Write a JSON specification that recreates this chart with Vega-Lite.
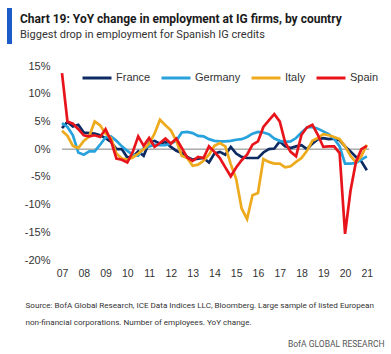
{
  "$schema": "https://vega.github.io/schema/vega-lite/v6.json",
  "width": 307,
  "height": 194,
  "autosize": {"type": "none"},
  "padding": {"left": 62, "top": 66, "right": 22, "bottom": 94},
  "config": {"view": {"stroke": null}, "font": "Liberation Sans"},
  "title": {
    "text": "Chart 19: YoY change in employment at IG firms, by country",
    "subtitle": "Biggest drop in employment for Spanish IG credits",
    "anchor": "start",
    "frame": "group",
    "dx": -42,
    "offset": -33,
    "font": "Roboto",
    "fontSize": 12,
    "fontWeight": "bold",
    "color": "#1a1a1a",
    "subtitleFont": "Roboto",
    "subtitleFontSize": 11,
    "subtitleColor": "#333333",
    "subtitlePadding": 3
  },
  "datasets": {
    "emp": [
      {"t": 2007, "France": 3.8, "Germany": 4.7, "Italy": 3.3, "Spain": 13.7},
      {"t": 2007.25, "France": 4.9, "Germany": 4.0, "Italy": 2.4, "Spain": 5.0},
      {"t": 2007.5, "France": 4.1, "Germany": 2.5, "Italy": 0.6, "Spain": 4.6},
      {"t": 2007.75, "France": 4.4, "Germany": -0.6, "Italy": 0.2, "Spain": 3.6},
      {"t": 2008, "France": 3.0, "Germany": -1.0, "Italy": 1.5, "Spain": 2.5},
      {"t": 2008.25, "France": 2.9, "Germany": -0.4, "Italy": 2.3, "Spain": 2.3},
      {"t": 2008.5, "France": 2.8, "Germany": -0.4, "Italy": 5.0, "Spain": 2.5},
      {"t": 2008.75, "France": 2.5, "Germany": 0.8, "Italy": 4.3, "Spain": 2.2},
      {"t": 2009, "France": 2.0, "Germany": 2.1, "Italy": 2.8, "Spain": 3.6},
      {"t": 2009.25, "France": 1.3, "Germany": 2.3, "Italy": 2.0, "Spain": 1.5},
      {"t": 2009.5, "France": 0.0, "Germany": 1.5, "Italy": -0.8, "Spain": -1.7},
      {"t": 2009.75, "France": 0.0, "Germany": 0.5, "Italy": -1.7, "Spain": -1.9},
      {"t": 2010, "France": -1.5, "Germany": -0.3, "Italy": -1.9, "Spain": -2.4},
      {"t": 2010.25, "France": -1.4, "Germany": -1.0, "Italy": -1.5, "Spain": -0.5},
      {"t": 2010.5, "France": -0.4, "Germany": -1.2, "Italy": -0.8, "Spain": 2.3},
      {"t": 2010.75, "France": -1.2, "Germany": 0.2, "Italy": 0.0, "Spain": 0.6},
      {"t": 2011, "France": 1.2, "Germany": 0.5, "Italy": 1.0, "Spain": 2.0},
      {"t": 2011.25, "France": 1.5, "Germany": 0.8, "Italy": 2.8, "Spain": 0.4},
      {"t": 2011.5, "France": 1.0, "Germany": 0.7, "Italy": 5.3, "Spain": 1.1},
      {"t": 2011.75, "France": 1.3, "Germany": 0.7, "Italy": 4.3, "Spain": 1.9},
      {"t": 2012, "France": 0.4, "Germany": 1.0, "Italy": 3.4, "Spain": 1.0},
      {"t": 2012.25, "France": -0.3, "Germany": 1.5, "Italy": 1.5, "Spain": 1.9},
      {"t": 2012.5, "France": -0.7, "Germany": 3.0, "Italy": -1.2, "Spain": 0.2},
      {"t": 2012.75, "France": -1.4, "Germany": 3.1, "Italy": -1.6, "Spain": -1.5},
      {"t": 2013, "France": -1.9, "Germany": 2.9, "Italy": -3.0, "Spain": -2.1},
      {"t": 2013.25, "France": -1.7, "Germany": 2.4, "Italy": -2.8, "Spain": -1.4},
      {"t": 2013.5, "France": -1.6, "Germany": 2.3, "Italy": -2.1, "Spain": -1.6},
      {"t": 2013.75, "France": -2.4, "Germany": 1.8, "Italy": -1.0, "Spain": 0.5},
      {"t": 2014, "France": -0.8, "Germany": 1.5, "Italy": 0.6, "Spain": -0.5},
      {"t": 2014.25, "France": -0.5, "Germany": 1.4, "Italy": 1.1, "Spain": -1.6},
      {"t": 2014.5, "France": -1.0, "Germany": 1.4, "Italy": 0.5, "Spain": -3.3},
      {"t": 2014.75, "France": 0.4, "Germany": 1.5, "Italy": -2.7, "Spain": -4.9},
      {"t": 2015, "France": -0.8, "Germany": 1.7, "Italy": -5.4, "Spain": -3.3},
      {"t": 2015.25, "France": -1.4, "Germany": 1.8, "Italy": -10.7, "Spain": -2.0},
      {"t": 2015.5, "France": -1.6, "Germany": 2.2, "Italy": -12.6, "Spain": -1.0},
      {"t": 2015.75, "France": -1.6, "Germany": 2.8, "Italy": -8.3, "Spain": 0.8},
      {"t": 2016, "France": -1.6, "Germany": 3.1, "Italy": -7.9, "Spain": 1.4},
      {"t": 2016.25, "France": -0.6, "Germany": 3.0, "Italy": -1.8, "Spain": 4.0},
      {"t": 2016.5, "France": 0.0, "Germany": 2.7, "Italy": -2.3, "Spain": 5.2},
      {"t": 2016.75, "France": 0.1, "Germany": 1.9, "Italy": -2.6, "Spain": 6.3},
      {"t": 2017, "France": 1.4, "Germany": 1.5, "Italy": -2.6, "Spain": 5.0},
      {"t": 2017.25, "France": 0.5, "Germany": 1.3, "Italy": -3.3, "Spain": 1.2},
      {"t": 2017.5, "France": 0.2, "Germany": 1.4, "Italy": -3.1, "Spain": -0.5},
      {"t": 2017.75, "France": 0.5, "Germany": 2.0, "Italy": -2.3, "Spain": -1.3},
      {"t": 2018, "France": 0.7, "Germany": 3.0, "Italy": -1.6, "Spain": 2.6},
      {"t": 2018.25, "France": 0.0, "Germany": 3.9, "Italy": -0.3, "Spain": 3.9},
      {"t": 2018.5, "France": 1.0, "Germany": 4.0, "Italy": 1.5, "Spain": 4.4},
      {"t": 2018.75, "France": 1.8, "Germany": 3.7, "Italy": 2.0, "Spain": 2.6},
      {"t": 2019, "France": 2.0, "Germany": 3.2, "Italy": 2.7, "Spain": 0.4},
      {"t": 2019.25, "France": 1.8, "Germany": 2.7, "Italy": 2.5, "Spain": 0.5},
      {"t": 2019.5, "France": 1.9, "Germany": 1.9, "Italy": 2.2, "Spain": 0.5},
      {"t": 2019.75, "France": 1.6, "Germany": 0.5, "Italy": 1.8, "Spain": -0.7},
      {"t": 2020, "France": 0.5, "Germany": -2.6, "Italy": 0.5, "Spain": -15.3},
      {"t": 2020.25, "France": -0.4, "Germany": -2.6, "Italy": -1.2, "Spain": -7.5},
      {"t": 2020.5, "France": -1.4, "Germany": -2.5, "Italy": -2.4, "Spain": -2.3},
      {"t": 2020.75, "France": -2.2, "Germany": -1.9, "Italy": -1.3, "Spain": 0.0},
      {"t": 2021, "France": -3.8, "Germany": -1.3, "Italy": 0.8, "Spain": 0.6}
    ]
  },
  "layer": [
    {
      "data": {"values": [{}]},
      "mark": {"type": "rule", "color": "#808080", "strokeWidth": 1},
      "encoding": {
        "y": {
          "datum": 0,
          "type": "quantitative",
          "scale": {"domain": [-20, 15], "nice": false},
          "axis": {
            "orient": "left",
            "values": [-20, -15, -10, -5, 0, 5, 10, 15],
            "labelExpr": "datum.value + '%'",
            "labelFont": "Liberation Sans",
            "labelFontSize": 11,
            "labelColor": "#333333",
            "labelPadding": 12,
            "labelFlush": false,
            "labelOverlap": false,
            "ticks": false,
            "domain": false,
            "grid": false,
            "title": "BofA GLOBAL RESEARCH",
            "titleAngle": 0,
            "titleX": 322,
            "titleY": 277,
            "titleAlign": "right",
            "titleBaseline": "middle",
            "titleFont": "Roboto",
            "titleFontSize": 8.5,
            "titleFontWeight": "normal",
            "titleColor": "#555555"
          }
        },
        "opacity": {
          "datum": "bar",
          "type": "nominal",
          "scale": {"range": [1]},
          "legend": {
            "orient": "none",
            "legendX": -70.5,
            "legendY": -58,
            "title": null,
            "padding": 0,
            "symbolType": "M-0.14,-1H0.14V1H-0.14Z",
            "symbolSize": 1296,
            "symbolFillColor": "#1b5cc8",
            "symbolStrokeColor": "transparent",
            "symbolStrokeWidth": 0,
            "labelExpr": "''",
            "labelFontSize": 1,
            "encode": {"symbols": {"update": {"fill": {"value": "#1b5cc8"}, "stroke": {"value": "transparent"}, "opacity": {"value": 1}}}}
          }
        }
      }
    },
    {
      "data": {"name": "emp"},
      "transform": [{"fold": ["France", "Germany", "Italy", "Spain"], "as": ["country", "v"]}],
      "mark": {"type": "line", "strokeWidth": 2.7},
      "encoding": {
        "x": {
          "field": "t",
          "type": "quantitative",
          "scale": {"domain": [2007, 2021.1], "nice": false, "zero": false},
          "axis": {
            "orient": "bottom",
            "values": [2007, 2008, 2009, 2010, 2011, 2012, 2013, 2014, 2015, 2016, 2017, 2018, 2019, 2020, 2021],
            "format": "d",
            "labelExpr": "slice(toString(datum.value), 2)",
            "labelFont": "Liberation Sans",
            "labelFontSize": 10.5,
            "labelColor": "#333333",
            "labelPadding": 8,
            "labelFlush": false,
            "labelOverlap": false,
            "ticks": false,
            "domain": false,
            "grid": false,
            "title": ["Source: BofA Global Research, ICE Data Indices LLC, Bloomberg. Large sample of listed European", "non-financial corporations. Number of employees. YoY change."],
            "titleX": -37,
            "titleY": 41,
            "titleAlign": "left",
            "titleBaseline": "top",
            "titleFont": "Roboto",
            "titleFontSize": 8.1,
            "titleFontWeight": "normal",
            "titleColor": "#333333",
            "titleLineHeight": 17
          }
        },
        "y": {
          "field": "v",
          "type": "quantitative",
          "axis": {
            "orient": "left",
            "values": [-20, -15, -10, -5, 0, 5, 10, 15],
            "labelExpr": "datum.value + '%'",
            "labelFont": "Liberation Sans",
            "labelFontSize": 11,
            "labelColor": "#333333",
            "labelPadding": 12,
            "labelFlush": false,
            "labelOverlap": false,
            "ticks": false,
            "domain": false,
            "grid": false,
            "title": "BofA GLOBAL RESEARCH",
            "titleAngle": 0,
            "titleX": 322,
            "titleY": 277,
            "titleAlign": "right",
            "titleBaseline": "middle",
            "titleFont": "Roboto",
            "titleFontSize": 8.5,
            "titleFontWeight": "normal",
            "titleColor": "#555555"
          }
        },
        "color": {
          "field": "country",
          "type": "nominal",
          "scale": {"domain": ["France", "Germany", "Italy", "Spain"], "range": ["#0d2a63", "#27a2dd", "#eeaa1d", "#e8141c"]},
          "legend": {
            "orient": "none",
            "legendX": 19,
            "legendY": -4,
            "direction": "horizontal",
            "title": null,
            "symbolType": "stroke",
            "symbolStrokeWidth": 3,
            "symbolSize": 841,
            "labelFont": "Liberation Sans",
            "labelFontSize": 11,
            "labelColor": "#333333",
            "labelOffset": 3,
            "columnPadding": 4
          }
        }
      }
    }
  ]
}
